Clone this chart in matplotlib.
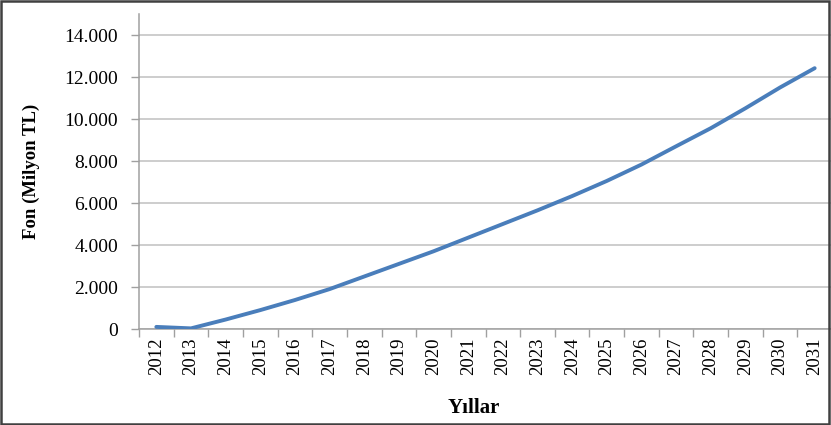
import matplotlib
matplotlib.use("Agg")
import matplotlib.pyplot as plt
from matplotlib.patches import Rectangle

years = [str(y) for y in range(2012, 2032)]
fund = [100, 30, 450, 900, 1380, 1900, 2500, 3100, 3700, 4350,
        5000, 5650, 6330, 7050, 7830, 8700, 9560, 10510, 11500, 12420]
yticks = [0, 2000, 4000, 6000, 8000, 10000, 12000, 14000]
ytick_labels = ["0", "2.000", "4.000", "6.000", "8.000", "10.000", "12.000", "14.000"]

plt.rcParams['font.family'] = ['Liberation Serif', 'DejaVu Serif']

fig = plt.figure(figsize=(8.31, 4.25), dpi=100)
W, H = 831, 425
ax = fig.add_axes([139 / W, 1 - 329 / H, (832 - 139) / W, (329 - 14) / H])

x = list(range(len(years)))
ax.plot(x, fund, color='#4a7ebb', lw=2.8, solid_capstyle='round', zorder=3)

ax.set_xlim(-0.5, len(years) - 0.5)
ax.set_ylim(0, 15000)
ax.set_yticks(yticks)
ax.set_yticklabels(ytick_labels, fontsize=14)
ax.yaxis.grid(True, color='#c0c0c0', lw=1.1)
ax.set_axisbelow(True)

ax.set_xticks(x)
ax.set_xticklabels(years, rotation=90, fontsize=13.5)
ax.set_xticks([i - 0.5 for i in range(len(years) + 1)], minor=True)
ax.tick_params(axis='x', which='major', length=0, pad=6)
ax.tick_params(axis='x', which='minor', length=6, color='#a0a0a0', width=1)
ax.tick_params(axis='y', length=6, color='#a0a0a0', width=1, pad=9)

for s in ['top', 'right']:
    ax.spines[s].set_visible(False)
for s in ['left', 'bottom']:
    ax.spines[s].set_color('#a0a0a0')
    ax.spines[s].set_linewidth(1.1)

fig.text(474 / W, 1 - 408 / H, 'Yıllar', fontsize=15, fontweight='bold',
         ha='center', va='center')
fig.text(31 / W, 1 - 171 / H, 'Fon (Milyon TL)', fontsize=13.5, fontweight='bold',
         rotation=90, ha='center', va='center')

fig.patches.append(Rectangle((0.001, 0.002), 0.997, 0.995, transform=fig.transFigure,
                             fill=False, edgecolor='#404040', lw=1.8))

fig.savefig('out.png', dpi=100)
